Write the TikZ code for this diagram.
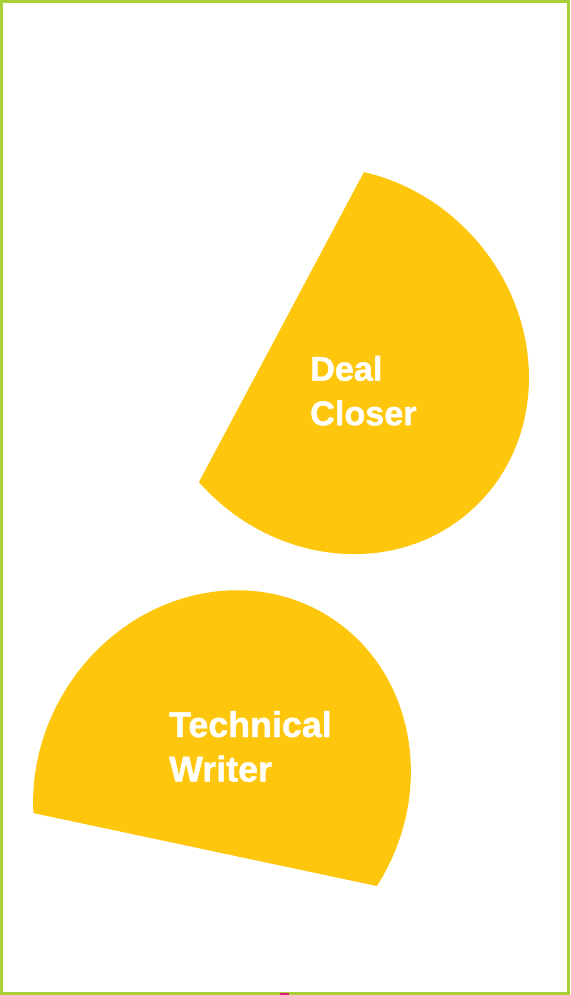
\documentclass[tikz,border=0pt]{standalone}
\usepackage{fontspec}
\setmainfont{Liberation Sans}
\newfontfamily\lblfont{Liberation Sans}[BoldFeatures={FakeBold=1.2}]
\usetikzlibrary{calc}
\definecolor{yel}{HTML}{FEC60C}
\definecolor{grn}{HTML}{A8CE38}
\definecolor{mag}{HTML}{E3197F}
\begin{document}
\begin{tikzpicture}[x=1pt,y=-1pt,
  seg/.style={fill=yel},
  lbl/.style={text=white, anchor=base west, align=left, inner sep=0pt}]
\useasboundingbox (0,0) rectangle (570,995);
\fill[white] (0,0) rectangle (570,995);
% chord end points
\coordinate (A1) at (364,172);
\coordinate (G1) at (199,482);
\coordinate (P1) at (33,813);
\coordinate (P2) at (376.7,886);
% segment 1 (Deal Closer)
\begin{scope}
  \clip ($(A1)!-0.57!(G1)$) -- ($(G1)!-0.57!(A1)$) -- (546.6,893.3) -- (899.4,230.1) -- cycle;
  \fill[seg, shift={(337.1,360.6)}, rotate=-47.8] (0,0) ellipse [x radius=201pt, y radius=184pt];
\end{scope}
% segment 2 (Technical Writer)
\begin{scope}
  \clip ($(P1)!-0.57!(P2)$) -- ($(P2)!-0.57!(P1)$) -- (696.9,340.6) -- (-38,184.6) -- cycle;
  \fill[seg, shift={(222.0,786.7)}, rotate=58.2] (0,0) ellipse [x radius=201pt, y radius=184pt];
\end{scope}
\node[lbl, font=\fontsize{34.2}{44.5}\selectfont\lblfont\bfseries] (deal) at (310,425.2) {Deal\\Closer};
\node[lbl, font=\fontsize{35.8}{44.5}\selectfont\lblfont\bfseries] (tech) at (169,781.5) {Technical\\Writer};
\draw[grn, line width=3pt] (1.5,1.5) rectangle (568.5,993.5);
\fill[mag] (280,993) rectangle (289,995);
\end{tikzpicture}
\end{document}
